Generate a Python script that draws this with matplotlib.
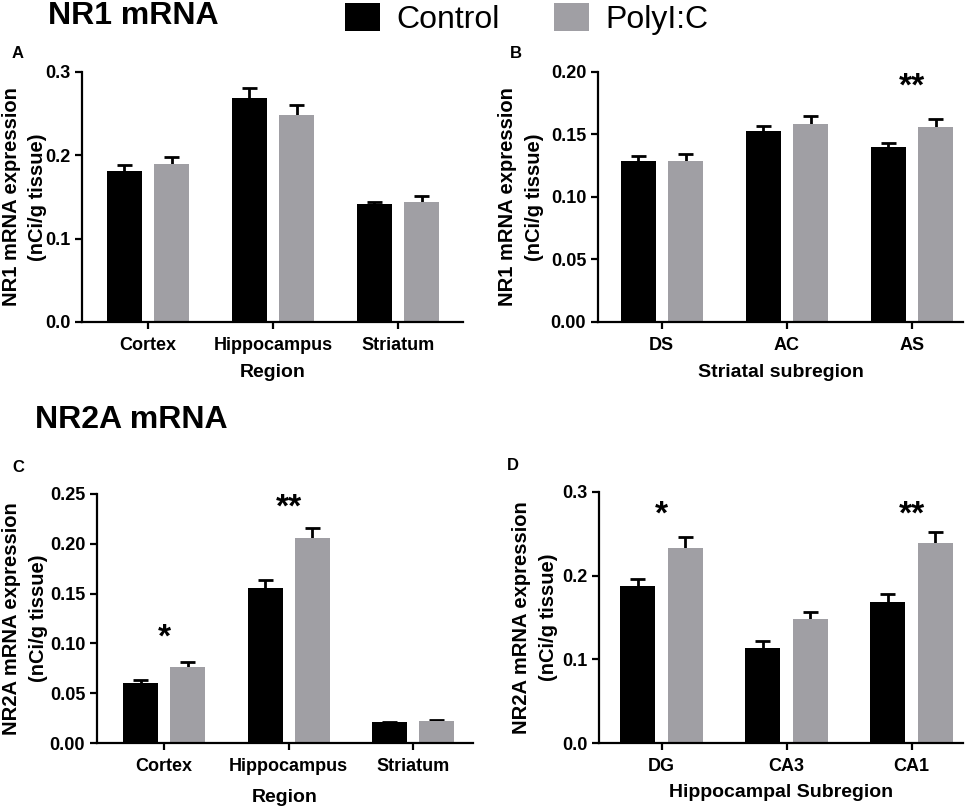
import numpy as np
import matplotlib.pyplot as plt
from matplotlib.patches import Patch

plt.rcParams['font.family'] = ['Liberation Sans', 'DejaVu Sans']
plt.rcParams['font.weight'] = 'bold'

groups = ['Control', 'PolyI:C']
colors = ['#000000', '#a09fa4']

regions = ['Cortex', 'Hippocampus', 'Striatum']
striatal = ['DS', 'AC', 'AS']
hippocampal = ['DG', 'CA3', 'CA1']

# panel A - NR1 by region
nr1_region_ctrl = [0.181, 0.269, 0.141]
nr1_region_ctrl_err = [0.007, 0.012, 0.003]
nr1_region_poly = [0.190, 0.248, 0.144]
nr1_region_poly_err = [0.008, 0.012, 0.007]

# panel B - NR1 striatal subregions
nr1_str_ctrl = [0.129, 0.153, 0.140]
nr1_str_ctrl_err = [0.0035, 0.0035, 0.003]
nr1_str_poly = [0.129, 0.158, 0.156]
nr1_str_poly_err = [0.0055, 0.007, 0.006]

# panel C - NR2A by region
nr2a_region_ctrl = [0.060, 0.156, 0.021]
nr2a_region_ctrl_err = [0.0035, 0.0075, 0.0004]
nr2a_region_poly = [0.0765, 0.206, 0.022]
nr2a_region_poly_err = [0.005, 0.010, 0.0007]

# panel D - NR2A hippocampal subregions
nr2a_hip_ctrl = [0.188, 0.114, 0.169]
nr2a_hip_ctrl_err = [0.0085, 0.0076, 0.0088]
nr2a_hip_poly = [0.233, 0.148, 0.2385]
nr2a_hip_poly_err = [0.0128, 0.0088, 0.0132]

W, H = 965, 809
fig = plt.figure(figsize=(W / 100, H / 100), dpi=100)


def px_axes(l, r, t, b):
    return fig.add_axes([l / W, 1 - b / H, (r - l) / W, (b - t) / H])


def bar_panel(ax, cats, ctrl, ctrl_err, poly, poly_err, ymax, step, fmt,
              xlim, ylabel, ylab_x, xlabel, xpad):
    x = np.arange(len(cats))
    off, width, cap = 0.19, 0.28, 0.06
    for sign, vals, errs, col in [(-1, ctrl, ctrl_err, colors[0]),
                                  (1, poly, poly_err, colors[1])]:
        xs = x + sign * off
        vals = np.array(vals)
        tops = vals + np.array(errs)
        ax.vlines(xs, vals, tops, color='black', lw=2, zorder=1)
        ax.hlines(tops, xs - cap, xs + cap, color='black', lw=2, zorder=1)
        ax.bar(xs, vals, width, color=col, edgecolor='none', zorder=2)
    ax.set_xlim(*xlim)
    ax.set_ylim(0, ymax)
    ax.set_yticks(np.arange(0, ymax + step / 2, step))
    ax.yaxis.set_major_formatter(plt.FormatStrFormatter(fmt))
    ax.set_xticks(x)
    ax.set_xticklabels(cats)
    for s in ['top', 'right']:
        ax.spines[s].set_visible(False)
    for s in ['left', 'bottom']:
        ax.spines[s].set_linewidth(1.6)
    ax.tick_params(width=1.6, length=5, labelsize=13, direction='out')
    ax.tick_params(axis='x', pad=6)
    ax.set_ylabel(ylabel, fontsize=14.5, fontweight='bold', linespacing=1.5,
                  va='center')
    ax.yaxis.set_label_coords(ylab_x, 0.5)
    ax.set_xlabel(xlabel, fontsize=14, fontweight='bold', labelpad=xpad)


axA = px_axes(82, 463, 72, 322)
bar_panel(axA, regions, nr1_region_ctrl, nr1_region_ctrl_err,
          nr1_region_poly, nr1_region_poly_err, 0.3, 0.1, '%.1f',
          (-0.53, 2.52), 'NR1 mRNA expression\n(nCi/g tissue)', -0.151,
          'Region', 7)

axB = px_axes(598, 963, 72, 322)
bar_panel(axB, striatal, nr1_str_ctrl, nr1_str_ctrl_err,
          nr1_str_poly, nr1_str_poly_err, 0.2, 0.05, '%.2f',
          (-0.51, 2.41), 'NR1 mRNA expression\n(nCi/g tissue)', -0.211,
          'Striatal subregion', 7)

axC = px_axes(97, 473, 494, 743)
bar_panel(axC, regions, nr2a_region_ctrl, nr2a_region_ctrl_err,
          nr2a_region_poly, nr2a_region_poly_err, 0.25, 0.05, '%.2f',
          (-0.54, 2.48), 'NR2A mRNA expression\n(nCi/g tissue)', -0.191,
          'Region', 10)

axD = px_axes(599, 963, 492, 743)
bar_panel(axD, hippocampal, nr2a_hip_ctrl, nr2a_hip_ctrl_err,
          nr2a_hip_poly, nr2a_hip_poly_err, 0.3, 0.1, '%.1f',
          (-0.50, 2.41), 'NR2A mRNA expression\n(nCi/g tissue)', -0.176,
          'Hippocampal Subregion', 6)

# significance marks
star = dict(ha='center', va='center', fontsize=24, fontweight='bold')
axB.text(2, 0.188, '**', **star)
axC.text(0, 0.105, '*', **star)
axC.text(1, 0.236, '**', **star)
axD.text(0, 0.272, '*', **star)
axD.text(2, 0.272, '**', **star)

# headers and panel letters
fig.text(48 / W, 1 - 16 / H, 'NR1 mRNA', fontsize=23, fontweight='bold',
         va='center')
fig.text(35 / W, 1 - 420 / H, 'NR2A mRNA', fontsize=23, fontweight='bold',
         va='center')
for lx, ly, lab in [(12, 53, 'A'), (510, 53, 'B'), (12, 467, 'C'),
                    (507, 465, 'D')]:
    fig.text(lx / W, 1 - ly / H, lab, fontsize=12, fontweight='bold',
             va='center')

handles = [Patch(facecolor=c, edgecolor='none') for c in colors]
fig.legend(handles, groups, loc='upper left', ncol=2,
           bbox_to_anchor=(345 / W, 1 - 3 / H), frameon=False,
           prop={'size': 23, 'weight': 'normal'}, handlelength=1.1,
           handleheight=0.95, handletextpad=0.5, columnspacing=1.7,
           borderpad=0, borderaxespad=0)

fig.savefig('out.png', dpi=100)
